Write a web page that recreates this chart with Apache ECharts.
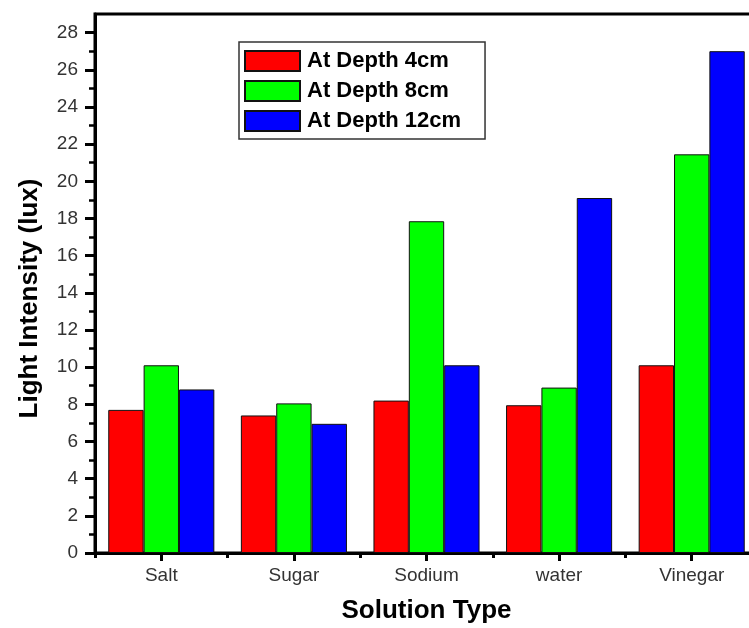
<!DOCTYPE html>
<html>
<head>
<meta charset="utf-8">
<script src="https://cdn.jsdelivr.net/npm/echarts@6/dist/echarts.min.js"></script>
<style>html,body{margin:0;padding:0;background:#fff}#c{width:749px;height:628px}</style>
</head>
<body>
<div id="c"></div>
<script>
const categories = ['Salt', 'Sugar', 'Sodium', 'water', 'Vinegar'];
const seriesNames = ['At Depth 4cm', 'At Depth 8cm', 'At Depth 12cm'];
const depth4 = [7.7, 7.4, 8.2, 7.95, 10.1];
const depth8 = [10.1, 8.05, 17.85, 8.9, 21.45];
const depth12 = [8.8, 6.95, 10.1, 19.1, 27];
const yTicks = [0, 2, 4, 6, 8, 10, 12, 14, 16, 18, 20, 22, 24, 26, 28];
const colors = ['#FF0000', '#00FF00', '#0000FF'];

const chart = echarts.init(document.getElementById('c'), null, {renderer: 'canvas'});
const font = 'Liberation Sans, Arial, sans-serif';
const values = [depth4, depth8, depth12];

chart.setOption({
  animation: false,
  backgroundColor: '#fff',
  textStyle: {fontFamily: font},
  grid: {left: 95, top: 14, width: 663, bottom: 75, show: true, borderColor: '#000', borderWidth: 3,
    containLabel: false, outerBoundsMode: 'none'},
  legend: {
    orient: 'vertical', left: 239, top: 42,
    padding: [8, 24, 7, 5],
    itemWidth: 55, itemHeight: 20, itemGap: 8,
    borderColor: '#333', borderWidth: 1.5,
    icon: 'rect',
    textStyle: {fontSize: 22, lineHeight: 20, fontWeight: 'bold', color: '#000', fontFamily: font, padding: [0, 0, 0, 2]},
    data: seriesNames
  },
  xAxis: [{
    type: 'category', data: categories, position: 'bottom',
    axisLine: {show: true, lineStyle: {color: '#000', width: 3}},
    axisTick: {show: true, alignWithLabel: true, interval: 0, length: 8, lineStyle: {color: '#000', width: 3}},
    axisLabel: {fontSize: 19, color: '#333', margin: 13, interval: 0},
    name: 'Solution Type', nameLocation: 'middle', nameGap: 45,
    nameTextStyle: {fontSize: 26, fontWeight: 'bold', color: '#000', verticalAlign: 'top'}
  }, {
    type: 'category', data: categories, position: 'bottom', gridIndex: 0,
    axisLine: {show: false},
    axisTick: {show: true, alignWithLabel: false, interval: 0, length: 5, lineStyle: {color: '#000', width: 3}},
    axisLabel: {show: false}
  }],
  yAxis: {
    type: 'value', min: 0, max: 29, interval: 2,
    axisLine: {show: true, lineStyle: {color: '#000', width: 3}},
    axisTick: {show: true, length: 10, lineStyle: {color: '#000', width: 3},
      customValues: yTicks},
    minorTick: {show: true, splitNumber: 2, length: 6, lineStyle: {color: '#000', width: 2.5}},
    splitLine: {show: false},
    axisLabel: {fontSize: 19, color: '#333', margin: 17, customValues: yTicks},
    name: 'Light Intensity (lux)', nameLocation: 'middle', nameGap: 52,
    nameTextStyle: {fontSize: 26, fontWeight: 'bold', color: '#000', padding: [0, 30, 0, 0]}
  },
  series: seriesNames.map((n, i) => ({
    name: n, type: 'bar', data: values[i],
    barGap: '0%', barCategoryGap: '20%',
    itemStyle: {color: colors[i], borderColor: '#111', borderWidth: 1}
  }))
});
</script>
</body>
</html>
